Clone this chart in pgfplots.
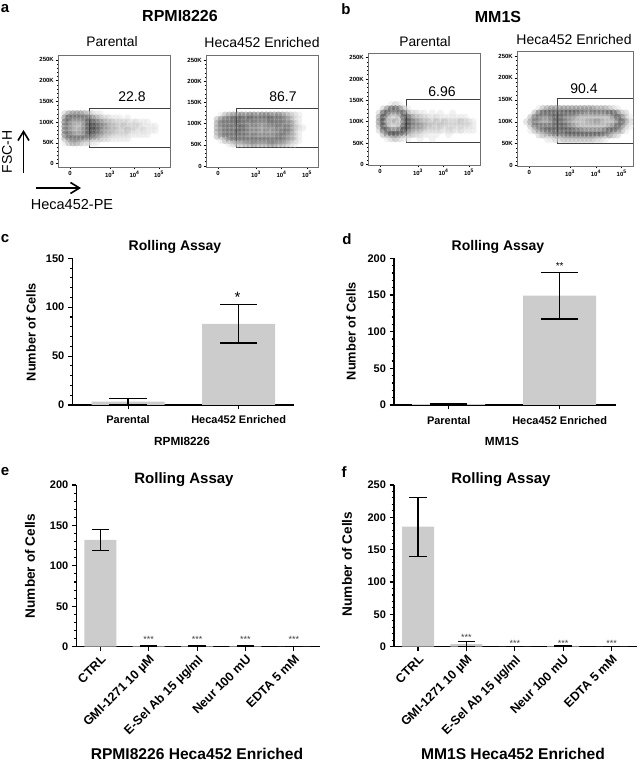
\documentclass[border=0pt]{standalone}
\usepackage{fontspec}
\setmainfont{Liberation Sans}
\usepackage{pgfplots}
\pgfplotsset{compat=1.18}
\usetikzlibrary{arrows.meta}

\definecolor{barc}{HTML}{CCCCCC}
\definecolor{boxc}{HTML}{707070}
\pgfplotsset{
  colormap={facs}{color(0cm)=(white); color(10cm)=(black)},
  % flow cytometry panel
  facs/.style={
    scale only axis, clip=false,
    axis line style={boxc, line width=0.9pt},
    tick pos=left, tick align=outside,
    major tick length=2.5pt, minor tick length=1.2pt,
    tick style={black, line width=0.5pt},
    ymin=#1, 
    ytick={0,50,100,150,200,250},
    yticklabels={0,50K,100K,150K,200K,250K},
    minor y tick num=4,
    minor xtick={1.7,2.0,2.25,2.5,2.7,2.85,3.3,3.48,3.6,3.7,3.78,3.85,3.9,3.95,4.3,4.48,4.6,4.7,4.78,4.85,4.9,4.95,5.3},
    tick label style={font=\fontsize{6}{6}\selectfont\bfseries, inner sep=1.5pt},
    /pgf/number format/assume math mode=true,
    colormap name=facs, point meta min=0, point meta max=10,
  },
  cytocells/.style={
    scatter, only marks, mark=*, mark size=3.7pt, line width=0pt,
    scatter/use mapped color={draw opacity=0, fill=mapped color, fill opacity=0.5},
    point meta=\thisrow{g},
  },
  gate/.style={black!75, line width=0.8pt, mark=none, point meta=none},
  % bar panels
  bars/.style={
    scale only axis, clip=false,
    axis x line=bottom, axis y line=left,
    axis line style={-, line width=1.1pt},
    tick align=outside,
    major tick length=4.5pt, minor tick length=2.5pt,
    tick style={black, line width=1.1pt},
    xtick style={black, line width=1.1pt},
    minor y tick num=4, ymin=0,
    tick label style={font=\fontsize{11}{11}\selectfont\bfseries},
    /pgf/number format/assume math mode=true,
    xtick={0,1,2,3,4},
  },
  barplot/.style={
    ybar, bar width=#1, bar shift=0pt, fill=barc, draw=none,
    error bars/.cd, y dir=both, y explicit,
    error bar style={black, line width=1.2pt},
  },
}

\begin{document}
\begin{tikzpicture}[x=1pt,y=1pt]
\useasboundingbox (0,0) rectangle (638,761);

%% a, left
\begin{axis}[facs=-8.4, at={(58pt,594pt)}, anchor=south west, width=112pt, height=112pt,
  xmin=0.878, xmax=5.449, ymax=261.8,
  xtick={1.37,3,4,5}, xticklabels={0,10\textsuperscript{3},10\textsuperscript{4},10\textsuperscript{5}}]
\addplot[cytocells] table[row sep=crcr] {
x y g\\
1.16 120 2\\1.32 120 4\\1.48 120 5\\1.64 120 5\\1.80 120 5\\1.96 120 4\\2.12 120 3\\2.28 120 2\\2.44 120 1\\2.60 120 1\\
1.16 110 5\\1.32 110 7\\1.48 110 6\\1.64 110 6\\1.80 110 6\\1.96 110 6\\2.12 110 6\\2.28 110 5\\2.44 110 4\\2.60 110 3\\2.76 110 2\\2.92 110 2\\3.08 110 1\\3.24 110 1\\3.40 110 1\\3.72 110 1\\
1.16 100 6\\1.32 100 6\\1.48 100 4\\1.64 100 4\\1.80 100 4\\1.96 100 5\\2.12 100 7\\2.28 100 7\\2.44 100 6\\2.60 100 5\\2.76 100 4\\2.92 100 3\\3.08 100 3\\3.24 100 2\\3.40 100 2\\3.56 100 2\\3.72 100 2\\3.88 100 1\\4.04 100 2\\4.20 100 1\\4.36 100 1\\4.52 100 1\\
1.16 90 6\\1.32 90 5\\1.48 90 4\\1.64 90 3\\1.80 90 3\\1.96 90 5\\2.12 90 7\\2.28 90 8\\2.44 90 7\\2.60 90 6\\2.76 90 5\\2.92 90 4\\3.08 90 3\\3.24 90 3\\3.40 90 2\\3.56 90 3\\3.72 90 2\\3.88 90 2\\4.04 90 2\\4.20 90 2\\4.36 90 1\\4.52 90 1\\4.68 90 1\\4.84 90 1\\
1.16 80 6\\1.32 80 5\\1.48 80 4\\1.64 80 3\\1.80 80 4\\1.96 80 5\\2.12 80 7\\2.28 80 8\\2.44 80 7\\2.60 80 6\\2.76 80 4\\2.92 80 4\\3.08 80 3\\3.24 80 3\\3.40 80 2\\3.56 80 2\\3.72 80 3\\3.88 80 2\\4.04 80 2\\4.20 80 1\\4.36 80 2\\4.52 80 1\\4.68 80 1\\4.84 80 1\\
1.16 70 6\\1.32 70 6\\1.48 70 5\\1.64 70 4\\1.80 70 4\\1.96 70 5\\2.12 70 7\\2.28 70 7\\2.44 70 6\\2.60 70 5\\2.76 70 4\\2.92 70 3\\3.08 70 3\\3.24 70 2\\3.40 70 2\\3.56 70 2\\3.72 70 2\\3.88 70 1\\4.04 70 1\\4.20 70 1\\4.36 70 1\\4.52 70 1\\
1.16 60 4\\1.32 60 6\\1.48 60 6\\1.64 60 6\\1.80 60 6\\1.96 60 6\\2.12 60 5\\2.28 60 5\\2.44 60 4\\2.60 60 3\\2.76 60 2\\2.92 60 2\\3.08 60 1\\3.24 60 1\\3.40 60 1\\3.56 60 1\\3.72 60 1\\
1.16 50 1\\1.32 50 3\\1.48 50 4\\1.64 50 4\\1.80 50 3\\1.96 50 2\\2.12 50 2\\2.28 50 1\\2.44 50 1\\
};
\addplot[gate] coordinates {(5.449,134) (2.14,134) (2.14,40) (5.449,40)};
\end{axis}

%% a, right
\begin{axis}[facs=-2.4, at={(206pt,594pt)}, anchor=south west, width=112pt, height=112pt,
  xmin=1.04, xmax=5.43, ymax=262,
  xtick={1.51,3,4,5}, xticklabels={0,10\textsuperscript{3},10\textsuperscript{4},10\textsuperscript{5}}]
\addplot[cytocells] table[row sep=crcr] {
x y g\\
1.64 120 1\\1.80 120 3\\1.96 120 4\\2.12 120 5\\2.28 120 5\\2.44 120 6\\2.60 120 5\\2.76 120 6\\2.92 120 6\\3.08 120 5\\3.24 120 6\\3.40 120 6\\3.56 120 6\\3.72 120 5\\3.88 120 6\\4.04 120 5\\4.20 120 4\\4.36 120 3\\4.52 120 2\\4.68 120 1\\
1.48 110 3\\1.64 110 5\\1.80 110 6\\1.96 110 6\\2.12 110 7\\2.28 110 7\\2.44 110 7\\2.60 110 6\\2.76 110 7\\2.92 110 6\\3.08 110 6\\3.24 110 6\\3.40 110 6\\3.56 110 7\\3.72 110 6\\3.88 110 6\\4.04 110 6\\4.20 110 5\\4.36 110 4\\4.52 110 2\\4.68 110 1\\
1.48 100 4\\1.64 100 6\\1.80 100 6\\1.96 100 6\\2.12 100 6\\2.28 100 7\\2.44 100 6\\2.60 100 6\\2.76 100 5\\2.92 100 6\\3.08 100 5\\3.24 100 5\\3.40 100 5\\3.56 100 6\\3.72 100 6\\3.88 100 6\\4.04 100 6\\4.20 100 5\\4.36 100 5\\4.52 100 3\\4.68 100 1\\
1.48 90 4\\1.64 90 5\\1.80 90 6\\1.96 90 6\\2.12 90 6\\2.28 90 6\\2.44 90 7\\2.60 90 6\\2.76 90 5\\2.92 90 5\\3.08 90 5\\3.24 90 4\\3.40 90 5\\3.56 90 5\\3.72 90 5\\3.88 90 6\\4.04 90 5\\4.20 90 6\\4.36 90 5\\4.52 90 3\\4.68 90 2\\4.84 90 1\\
1.48 80 4\\1.64 80 5\\1.80 80 6\\1.96 80 6\\2.12 80 6\\2.28 80 7\\2.44 80 6\\2.60 80 6\\2.76 80 5\\2.92 80 5\\3.08 80 5\\3.24 80 4\\3.40 80 5\\3.56 80 4\\3.72 80 5\\3.88 80 5\\4.04 80 6\\4.20 80 6\\4.36 80 5\\4.52 80 3\\4.68 80 1\\
1.48 70 3\\1.64 70 5\\1.80 70 6\\1.96 70 6\\2.12 70 6\\2.28 70 6\\2.44 70 6\\2.60 70 6\\2.76 70 5\\2.92 70 6\\3.08 70 5\\3.24 70 5\\3.40 70 5\\3.56 70 5\\3.72 70 5\\3.88 70 6\\4.04 70 6\\4.20 70 5\\4.36 70 4\\4.52 70 3\\4.68 70 1\\
1.64 60 1\\1.80 60 3\\1.96 60 5\\2.12 60 6\\2.28 60 6\\2.44 60 6\\2.60 60 6\\2.76 60 6\\2.92 60 6\\3.08 60 6\\3.24 60 6\\3.40 60 6\\3.56 60 6\\3.72 60 6\\3.88 60 6\\4.04 60 6\\4.20 60 5\\4.36 60 4\\4.52 60 3\\4.68 60 1\\
1.96 52 1\\2.12 52 2\\2.28 52 3\\2.44 52 3\\2.60 52 4\\2.76 52 4\\2.92 52 5\\3.08 52 4\\3.24 52 4\\3.40 52 4\\3.56 52 5\\3.72 52 5\\3.88 52 4\\4.04 52 4\\4.20 52 3\\4.36 52 2\\4.52 52 1\\
};
\addplot[gate] coordinates {(5.43,137) (2.25,137) (2.25,45) (5.43,45)};
\end{axis}

%% b, left
\begin{axis}[facs=-1.6, at={(368pt,596pt)}, anchor=south west, width=112pt, height=112pt,
  xmin=1.04, xmax=5.43, ymax=261,
  xtick={1.51,3,4,5}, xticklabels={0,10\textsuperscript{3},10\textsuperscript{4},10\textsuperscript{5}}]
\addplot[cytocells] table[row sep=crcr] {
x y g\\
1.96 140 1\\2.12 140 2\\2.28 140 1\\
1.64 130 2\\1.80 130 5\\1.96 130 7\\2.12 130 7\\2.28 130 6\\2.44 130 3\\2.60 130 1\\
1.48 120 2\\1.64 120 7\\1.80 120 7\\1.96 120 5\\2.12 120 5\\2.28 120 6\\2.44 120 7\\2.60 120 4\\2.76 120 2\\2.92 120 2\\3.08 120 1\\3.24 120 1\\3.56 120 1\\3.88 120 1\\4.36 120 1\\
1.48 110 4\\1.64 110 8\\1.80 110 4\\1.96 110 2\\2.12 110 2\\2.28 110 3\\2.44 110 7\\2.60 110 7\\2.76 110 5\\2.92 110 3\\3.08 110 3\\3.24 110 2\\3.40 110 2\\3.56 110 1\\3.72 110 2\\3.88 110 1\\4.04 110 1\\4.20 110 1\\4.36 110 1\\4.52 110 1\\4.68 110 1\\4.84 110 1\\
1.48 100 5\\1.64 100 8\\1.80 100 3\\1.96 100 3\\2.12 100 4\\2.28 100 2\\2.44 100 6\\2.60 100 8\\2.76 100 6\\2.92 100 5\\3.08 100 4\\3.24 100 3\\3.40 100 3\\3.56 100 2\\3.72 100 3\\3.88 100 2\\4.04 100 3\\4.20 100 2\\4.36 100 2\\4.52 100 2\\4.68 100 3\\4.84 100 2\\5.00 100 2\\5.16 100 1\\
1.48 90 4\\1.64 90 8\\1.80 90 4\\1.96 90 2\\2.12 90 2\\2.28 90 3\\2.44 90 7\\2.60 90 8\\2.76 90 6\\2.92 90 5\\3.08 90 5\\3.24 90 4\\3.40 90 3\\3.56 90 3\\3.72 90 2\\3.88 90 3\\4.04 90 2\\4.20 90 2\\4.36 90 2\\4.52 90 2\\4.68 90 2\\4.84 90 2\\5.00 90 2\\5.16 90 1\\
1.48 80 2\\1.64 80 7\\1.80 80 7\\1.96 80 5\\2.12 80 5\\2.28 80 6\\2.44 80 8\\2.60 80 7\\2.76 80 5\\2.92 80 4\\3.08 80 4\\3.24 80 3\\3.40 80 2\\3.56 80 2\\3.72 80 2\\3.88 80 2\\4.04 80 1\\4.20 80 2\\4.36 80 2\\4.52 80 1\\4.68 80 2\\4.84 80 1\\5.00 80 1\\5.16 80 1\\
1.64 70 3\\1.80 70 6\\1.96 70 8\\2.12 70 8\\2.28 70 7\\2.44 70 6\\2.60 70 4\\2.76 70 3\\2.92 70 2\\3.08 70 2\\3.24 70 1\\3.40 70 1\\3.72 70 1\\4.20 70 1\\
1.80 60 1\\1.96 60 2\\2.12 60 3\\2.28 60 2\\2.44 60 1\\2.60 60 1\\3.08 60 1\\3.56 60 1\\
};
\addplot[gate, line width=1pt] coordinates {(5.43,153) (2.53,153) (2.53,50) (5.43,50)};
\end{axis}

%% b, right
\begin{axis}[facs=-0.7, at={(517pt,595pt)}, anchor=south west, width=116pt, height=115pt,
  xmin=0.946, xmax=5.44, ymax=261.4,
  xtick={1.42,3,4,5}, xticklabels={0,10\textsuperscript{3},10\textsuperscript{4},10\textsuperscript{5}}]
\addplot[cytocells] table[row sep=crcr] {
x y g\\
1.80 130 1\\1.96 130 3\\2.12 130 4\\2.28 130 5\\2.44 130 5\\2.60 130 5\\2.76 130 5\\2.92 130 5\\3.08 130 5\\3.24 130 5\\3.40 130 5\\3.56 130 5\\3.72 130 5\\3.88 130 5\\4.04 130 4\\4.20 130 4\\4.36 130 4\\4.52 130 3\\4.68 130 2\\4.84 130 1\\
1.64 120 3\\1.80 120 6\\1.96 120 7\\2.12 120 7\\2.28 120 7\\2.44 120 7\\2.60 120 7\\2.76 120 7\\2.92 120 7\\3.08 120 7\\3.24 120 7\\3.40 120 6\\3.56 120 6\\3.72 120 5\\3.88 120 6\\4.04 120 6\\4.20 120 6\\4.36 120 6\\4.52 120 7\\4.68 120 7\\4.84 120 6\\5.00 120 3\\5.16 120 2\\
1.48 110 3\\1.64 110 6\\1.80 110 6\\1.96 110 5\\2.12 110 5\\2.28 110 6\\2.44 110 7\\2.60 110 7\\2.76 110 6\\2.92 110 5\\3.08 110 5\\3.24 110 4\\3.40 110 3\\3.56 110 3\\3.72 110 3\\3.88 110 3\\4.04 110 3\\4.20 110 3\\4.36 110 3\\4.52 110 3\\4.68 110 5\\4.84 110 7\\5.00 110 6\\5.16 110 3\\5.32 110 1\\
1.32 100 2\\1.48 100 4\\1.64 100 6\\1.80 100 5\\1.96 100 4\\2.12 100 4\\2.28 100 5\\2.44 100 7\\2.60 100 7\\2.76 100 6\\2.92 100 5\\3.08 100 4\\3.24 100 3\\3.40 100 3\\3.56 100 3\\3.72 100 4\\3.88 100 4\\4.04 100 5\\4.20 100 4\\4.36 100 3\\4.52 100 3\\4.68 100 3\\4.84 100 5\\5.00 100 7\\5.16 100 5\\5.32 100 2\\
1.48 90 3\\1.64 90 6\\1.80 90 6\\1.96 90 6\\2.12 90 6\\2.28 90 6\\2.44 90 7\\2.60 90 7\\2.76 90 7\\2.92 90 6\\3.08 90 5\\3.24 90 4\\3.40 90 3\\3.56 90 3\\3.72 90 3\\3.88 90 3\\4.04 90 3\\4.20 90 3\\4.36 90 3\\4.52 90 4\\4.68 90 5\\4.84 90 7\\5.00 90 6\\5.16 90 3\\5.32 90 1\\
1.48 80 1\\1.64 80 3\\1.80 80 5\\1.96 80 6\\2.12 80 7\\2.28 80 7\\2.44 80 7\\2.60 80 7\\2.76 80 7\\2.92 80 7\\3.08 80 7\\3.24 80 6\\3.40 80 6\\3.56 80 5\\3.72 80 5\\3.88 80 5\\4.04 80 5\\4.20 80 5\\4.36 80 6\\4.52 80 7\\4.68 80 7\\4.84 80 6\\5.00 80 4\\5.16 80 1\\
1.80 70 2\\1.96 70 3\\2.12 70 4\\2.28 70 5\\2.44 70 6\\2.60 70 6\\2.76 70 6\\2.92 70 7\\3.08 70 7\\3.24 70 7\\3.40 70 7\\3.56 70 7\\3.72 70 7\\3.88 70 7\\4.04 70 7\\4.20 70 7\\4.36 70 6\\4.52 70 5\\4.68 70 3\\4.84 70 2\\
2.12 60 1\\2.28 60 1\\2.44 60 2\\2.60 60 2\\2.76 60 3\\2.92 60 3\\3.08 60 3\\3.24 60 3\\3.40 60 3\\3.56 60 3\\3.72 60 3\\3.88 60 3\\4.04 60 2\\4.20 60 2\\4.36 60 1\\
};
\addplot[gate, line width=1pt] coordinates {(5.44,154) (2.5,154) (2.5,49.5) (5.44,49.5)};
\end{axis}

%% c
\begin{axis}[bars, at={(72.3pt,356pt)}, anchor=south west, width=221.7pt, height=146.7pt,
  xmin=-0.504, xmax=1.5, ymax=150, ytick={0,50,100,150},
  xticklabels={Parental,Heca452 Enriched},
  xticklabel style={font=\fontsize{11}{11}\selectfont\bfseries, yshift=-3pt}]
\addplot[barplot=73pt, error mark options={mark size=18.7pt, line width=1.2pt, black, rotate=90}] coordinates {
  (0,3.4) +- (0,3.4)
  (1,83) +- (0,19.6)
};
\node[font=\fontsize{15}{15}\selectfont] at (axis cs:0.99,110) {*};
\end{axis}

%% d
\begin{axis}[bars, at={(394pt,356pt)}, anchor=south west, width=221.7pt, height=146.7pt,
  xmin=-0.493, xmax=1.505, ymax=200, ytick={0,50,100,150,200},
  xticklabels={Parental,Heca452 Enriched},
  xticklabel style={font=\fontsize{11}{11}\selectfont\bfseries, yshift=-3pt}]
\addplot[barplot=73pt, error mark options={mark size=18.7pt, line width=1.2pt, black, rotate=90}] coordinates {
  (0,1.2) +- (0,0.6)
  (1,149) +- (0,31.8)
};
\node[font=\fontsize{10}{10}\selectfont] at (axis cs:1,189) {**};
\end{axis}

%% e
\begin{axis}[bars, at={(76.3pt,114.3pt)}, anchor=south west, width=243.7pt, height=161.7pt,
  xmin=-0.496, xmax=4.54, ymax=200, ytick={0,50,100,150,200},
  xticklabels={CTRL,GMI-1271 10 µM,E-Sel Ab 15 µg/ml,Neur 100 mU,EDTA 5 mM},
  xticklabel style={font=\fontsize{12.5}{12.5}\selectfont\bfseries, rotate=45, anchor=north east, inner sep=2pt}]
\addplot[barplot=32pt, error mark options={mark size=8.7pt, line width=1.2pt, black, rotate=90}] coordinates {
  (0,132) +- (0,13)
  (1,1) +- (0,0.5)
  (2,0.8) +- (0,0.4)
  (3,0.8) +- (0,0.4)
  (4,0.2) +- (0,0.1)
};
\node[font=\fontsize{9}{9}\selectfont, black!75] at (axis cs:1,9) {***};
\node[font=\fontsize{9}{9}\selectfont, black!75] at (axis cs:2,9) {***};
\node[font=\fontsize{9}{9}\selectfont, black!75] at (axis cs:3,9) {***};
\node[font=\fontsize{9}{9}\selectfont, black!75] at (axis cs:4,9) {***};
\end{axis}

%% f
\begin{axis}[bars, at={(394pt,114.3pt)}, anchor=south west, width=242.7pt, height=161.7pt,
  xmin=-0.496, xmax=4.52, ymax=250, ytick={0,50,100,150,200,250},
  xticklabels={CTRL,GMI-1271 10 µM,E-Sel Ab 15 µg/ml,Neur 100 mU,EDTA 5 mM},
  xticklabel style={font=\fontsize{12.5}{12.5}\selectfont\bfseries, rotate=45, anchor=north east, inner sep=2pt}]
\addplot[barplot=32pt, error mark options={mark size=8.7pt, line width=1.2pt, black, rotate=90}] coordinates {
  (0,185.5) +- (0,45.5)
  (1,4) +- (0,4.3)
  (2,0.3) +- (0,0.2)
  (3,1.2) +- (0,0.6)
  (4,0.3) +- (0,0.2)
};
\node[font=\fontsize{9}{9}\selectfont, black!75] at (axis cs:1,15) {***};
\node[font=\fontsize{9}{9}\selectfont, black!75] at (axis cs:2,5) {***};
\node[font=\fontsize{9}{9}\selectfont, black!75] at (axis cs:3,5) {***};
\node[font=\fontsize{9}{9}\selectfont, black!75] at (axis cs:4,5) {***};
\end{axis}

%% panel letters and titles (pixel positions, y measured up from the bottom)
\tikzset{lab/.style={inner sep=0pt, anchor=center}}
\node[lab, font=\fontsize{15}{15}\selectfont\bfseries] at (5,752) {a};
\node[lab, font=\fontsize{15}{15}\selectfont\bfseries] at (346,752) {b};
\node[lab, font=\fontsize{15}{15}\selectfont\bfseries] at (5,522) {c};
\node[lab, font=\fontsize{15}{15}\selectfont\bfseries] at (347,522) {d};
\node[lab, font=\fontsize{15}{15}\selectfont\bfseries] at (5,289) {e};
\node[lab, font=\fontsize{15}{15}\selectfont\bfseries] at (344,289) {f};

\node[lab, font=\fontsize{16}{16}\selectfont\bfseries] at (180,745) {RPMI8226};
\node[lab, font=\fontsize{16}{16}\selectfont\bfseries] at (498,744) {MM1S};
\node[lab, font=\fontsize{13.8}{13.8}\selectfont] at (112,719) {Parental};
\node[lab, font=\fontsize{14}{14}\selectfont] at (262,718) {Heca452 Enriched};
\node[lab, font=\fontsize{13.8}{13.8}\selectfont] at (425,719) {Parental};
\node[lab, font=\fontsize{14}{14}\selectfont] at (574,721) {Heca452 Enriched};
\node[lab, font=\fontsize{14}{14}\selectfont] at (132,664) {22.8};
\node[lab, font=\fontsize{14}{14}\selectfont] at (283,664) {86.7};
\node[lab, font=\fontsize{14}{14}\selectfont] at (442,669) {6.96};
\node[lab, font=\fontsize{14}{14}\selectfont] at (584,672) {90.4};

% FSC-H / Heca452-PE axes key
\draw[-{Straight Barb[length=9pt,width=11pt,line width=1.6pt]}, line width=1.4pt] (23.5,588) -- (23.5,631);
\draw[-{Straight Barb[length=9pt,width=11pt,line width=1.6pt]}, line width=1.4pt] (36,573) -- (81,573);
\node[lab, rotate=90, font=\fontsize{14}{14}\selectfont] at (7,609) {FSC-H};
\node[lab, font=\fontsize{14.5}{14.5}\selectfont] at (72,556) {Heca452-PE};

% panel c, d titles and labels
\node[lab, font=\fontsize{14}{14}\selectfont\bfseries] at (175,514) {Rolling Assay};
\node[lab, font=\fontsize{14}{14}\selectfont\bfseries] at (498,514) {Rolling Assay};
\node[lab, rotate=90, font=\fontsize{12.8}{12.8}\selectfont\bfseries] at (31,429) {Number of Cells};
\node[lab, rotate=90, font=\fontsize{12.8}{12.8}\selectfont\bfseries] at (351,430) {Number of Cells};
\node[lab, font=\fontsize{11.8}{11.8}\selectfont\bfseries] at (182,320) {RPMI8226};
\node[lab, font=\fontsize{11.8}{11.8}\selectfont\bfseries] at (502,320) {MM1S};

% panel e, f titles and labels
\node[lab, font=\fontsize{15}{15}\selectfont\bfseries] at (184,281) {Rolling Assay};
\node[lab, font=\fontsize{15}{15}\selectfont\bfseries] at (501,281) {Rolling Assay};
\node[lab, rotate=90, font=\fontsize{13.6}{13.6}\selectfont\bfseries] at (30,195) {Number of Cells};
\node[lab, rotate=90, font=\fontsize{13.6}{13.6}\selectfont\bfseries] at (347,197) {Number of Cells};
\node[lab, font=\fontsize{15.6}{15.6}\selectfont\bfseries] at (197,7.5) {RPMI8226 Heca452 Enriched};
\node[lab, font=\fontsize{15.6}{15.6}\selectfont\bfseries] at (513,7.5) {MM1S Heca452 Enriched};
\end{tikzpicture}
\end{document}
